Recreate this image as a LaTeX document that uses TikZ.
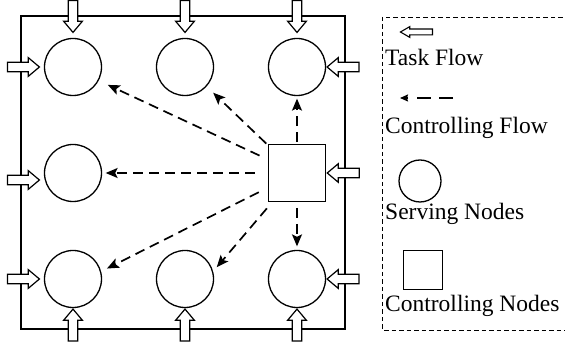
\documentclass[tikz,border=0pt]{standalone}
\usepackage{fontspec}
\setmainfont{Liberation Serif}
\newfontfamily\legendfont{Liberation Serif}
\usetikzlibrary{positioning,shapes.arrows,arrows.meta}

\begin{document}
\begin{tikzpicture}[x=1pt,y=1pt,
    serve/.style={circle,draw,line width=1.3pt,minimum size=57pt,inner sep=0pt},
    ctrlbox/.style={rectangle,draw,line width=1.6pt,minimum size=57pt,inner sep=0pt},
    task/.style={single arrow,draw,fill=white,line width=1.2pt,inner sep=4.2pt,minimum height=32pt,
      single arrow head extend=4.5pt,single arrow tip angle=80},
    tasksmall/.style={task,line width=1.1pt,inner sep=2.4pt,single arrow head extend=2.4pt,single arrow tip angle=60},
    flow/.style={line width=1.7pt,dash pattern=on 10pt off 6pt,-{Stealth[length=12pt,width=10pt,inset=2.5pt]}},
    flowsmall/.style={line width=1.4pt,dash pattern=on 14pt off 8.5pt,-{Stealth[length=8pt,width=7pt,inset=1pt]}},
    lbl/.style={anchor=base west,inner sep=0pt,font=\legendfont\fontsize{23.5}{28}\selectfont}]
  \useasboundingbox (0,0) rectangle (565,345);
  \draw[line width=1.5pt] (21,16) rectangle (345,329);
  % serving and controlling nodes
  \node[serve] (n1) at (73,278) {};
  \node[serve] (n2) at (185,278) {};
  \node[serve] (n3) at (297,278) {};
  \node[serve] (n4) at (73,172) {};
  \node[serve] (n5) at (73,66) {};
  \node[serve] (n6) at (185,66) {};
  \node[serve] (n7) at (297,66) {};
  \node[ctrlbox] (cn) at (297,172) {};
  % task flow
  \node[task,shape border rotate=270,above=4.5pt of n1] (t1) {};
  \node[task,shape border rotate=270,above=4.5pt of n2] (t2) {};
  \node[task,shape border rotate=270,above=4.5pt of n3] (t3) {};
  \node[task,left=3.5pt of n1] (t4) {};
  \node[task,left=3.5pt of n4,yshift=-7pt] (t5) {};
  \node[task,left=3.5pt of n5] (t6) {};
  \node[task,shape border rotate=180,right=0pt of n3] (t7) {};
  \node[task,shape border rotate=180,right=0pt of cn] (t8) {};
  \node[task,shape border rotate=180,right=0pt of n7] (t9) {};
  \node[task,shape border rotate=90,below=0pt of n5] (t10) {};
  \node[task,shape border rotate=90,below=0pt of n6] (t11) {};
  \node[task,shape border rotate=90,below=0pt of n7] (t12) {};
  % controlling flow
  \draw[flow,shorten <=9pt,shorten >=10pt] (cn) -- (n1.-28);
  \draw[flow,shorten <=2pt,shorten >=9pt] (cn) -- (n2.-42);
  \draw[flow,shorten <=1.5pt,shorten >=2.5pt] (cn) -- (n3);
  \draw[flow,shorten <=13pt,shorten >=3.5pt] (cn) -- (n4);
  \draw[flow,shorten <=10pt,shorten >=6.5pt] (cn) -- (n5.15);
  \draw[flow,shorten <=8pt,shorten >=5.5pt] (cn) -- (n6.15);
  \draw[flow,shorten <=5.5pt,shorten >=3.5pt] (cn) -- (n7);
  % legend
  \draw[line width=0.8pt,dash pattern=on 4.5pt off 3pt] (382,328) rectangle (568,15);
  \node[tasksmall,shape border rotate=180] (lt) at (419,313) {};
  \node[lbl] (ltt) at (385,279) {Task Flow};
  \coordinate (lf1) at (453,247);
  \coordinate (lf2) at (400,247);
  \draw[flowsmall] (lf1) -- (lf2);
  \node[lbl] (lft) at (385,211) {Controlling Flow};
  \node[serve,minimum size=42pt] (ls) at (420,164) {};
  \node[lbl] (lst) at (385,125) {Serving Nodes};
  \node[ctrlbox,minimum size=39pt] (lc) at (423,75) {};
  \node[lbl] (lct) at (385,33) {Controlling Nodes};
\end{tikzpicture}
\end{document}
